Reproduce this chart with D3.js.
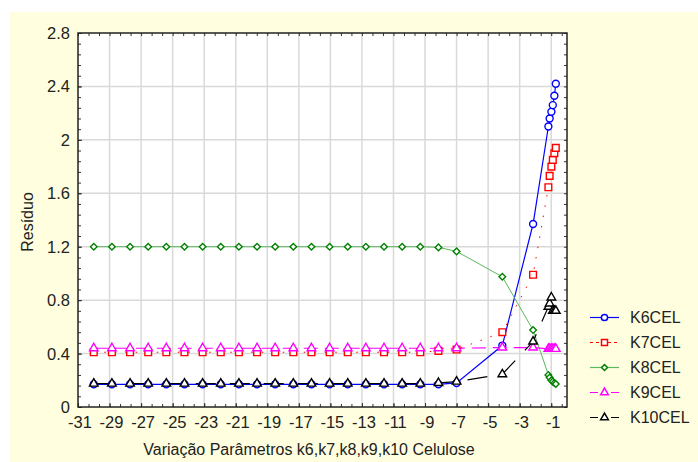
<!DOCTYPE html>
<html lang="pt">
<head>
<meta charset="utf-8">
<title>Resíduo</title>
<script src="https://cdn.jsdelivr.net/npm/d3@7"></script>
<style>
  body { margin: 0; background: #fff; }
  text { font-family: "Liberation Sans", Arial, sans-serif; fill: #222; }
</style>
</head>
<body>
<script>
// x values (parameter variation)
var xVals = [-30, -28.85, -27.7, -26.55, -25.4, -24.25, -23.1, -21.95, -20.8, -19.65,
             -18.5, -17.35, -16.2, -15.05, -13.9, -12.75, -11.6, -10.45, -9.3, -8.15,
             -7, -4.1, -2.15, -1.18, -1.1, -0.99, -0.9, -0.8, -0.71];

var k6cel  = [0.17, 0.17, 0.17, 0.17, 0.17, 0.17, 0.17, 0.17, 0.17, 0.17,
              0.17, 0.17, 0.17, 0.17, 0.17, 0.17, 0.17, 0.17, 0.17, 0.17,
              0.18, 0.46, 1.37, 2.10, 2.16, 2.21, 2.26, 2.33, 2.42];
var k7cel  = [0.41, 0.41, 0.41, 0.41, 0.41, 0.41, 0.41, 0.41, 0.41, 0.41,
              0.41, 0.41, 0.41, 0.41, 0.41, 0.41, 0.41, 0.41, 0.41, 0.42,
              0.43, 0.56, 0.99, 1.645, 1.73, 1.80, 1.85, 1.90, 1.94];
var k8cel  = [1.2, 1.2, 1.2, 1.2, 1.2, 1.2, 1.2, 1.2, 1.2, 1.2,
              1.2, 1.2, 1.2, 1.2, 1.2, 1.2, 1.2, 1.2, 1.2, 1.195,
              1.165, 0.975, 0.576, 0.24, 0.22, 0.2, 0.19, 0.18, 0.172];
var k9cel  = [0.44, 0.44, 0.44, 0.44, 0.44, 0.44, 0.44, 0.44, 0.44, 0.44,
              0.44, 0.44, 0.44, 0.44, 0.44, 0.44, 0.44, 0.44, 0.44, 0.44,
              0.44, 0.445, 0.445, 0.435, 0.435, 0.435, 0.435, 0.435, 0.435];
var k10cel = [0.175, 0.175, 0.175, 0.175, 0.175, 0.175, 0.175, 0.175, 0.175, 0.175,
              0.175, 0.175, 0.175, 0.175, 0.175, 0.175, 0.175, 0.175, 0.175, 0.18,
              0.19, 0.245, 0.49, 0.75, 0.775, 0.82, 0.72, 0.72, 0.72];

var xTicks = [-31, -29, -27, -25, -23, -21, -19, -17, -15, -13, -11, -9, -7, -5, -3, -1];
var yTicks = [0, 0.4, 0.8, 1.2, 1.6, 2, 2.4, 2.8];

var names = ["K6CEL", "K7CEL", "K8CEL", "K9CEL", "K10CEL"];

var w = 698, h = 462;
var pLeft = 78, pRight = 567, pTop = 33, pBottom = 407;

var svg = d3.select("body").append("svg")
    .attr("width", w).attr("height", h);

// yellow panel
svg.append("rect").attr("x", 10).attr("y", 12)
   .attr("width", w - 10).attr("height", h - 12).attr("fill", "#ffffe0");
svg.append("rect").attr("x", pLeft).attr("y", pTop)
   .attr("width", pRight - pLeft).attr("height", pBottom - pTop).attr("fill", "#fff");

var x = d3.scaleLinear().domain([-31, 0]).range([pLeft, pRight]);
var y = d3.scaleLinear().domain([0, 2.8]).range([pBottom, pTop]);

// grid
svg.append("g").selectAll("line").data(xTicks.slice(1)).enter().append("line")
   .attr("x1", function(d) { return x(d); }).attr("x2", function(d) { return x(d); })
   .attr("y1", pTop).attr("y2", pBottom)
   .attr("stroke", "#d9d9d9").attr("stroke-width", 1.5);
svg.append("g").selectAll("line").data(yTicks.slice(1, -1)).enter().append("line")
   .attr("y1", function(d) { return y(d); }).attr("y2", function(d) { return y(d); })
   .attr("x1", pLeft).attr("x2", pRight)
   .attr("stroke", "#d9d9d9").attr("stroke-width", 1.5);

// minor ticks (inward, all four sides)
var xMinor = d3.range(0, 47).map(function(i) { return -31 + i * 2 / 3; }).filter(function(d) { return d <= 0; });
var yMinor = d3.range(0, 36).map(function(i) { return i * 0.08; });

function inwardAxis(axisFn, scale, vals, len, tr) {
    svg.append("g").attr("transform", tr)
       .call(axisFn(scale).tickValues(vals).tickSize(-len).tickFormat(""))
       .call(function(g) { g.select(".domain").remove(); g.selectAll("line").attr("stroke", "#333"); });
}
inwardAxis(d3.axisBottom, x, xMinor, 3, "translate(0," + pBottom + ")");
inwardAxis(d3.axisTop, x, xMinor, 3, "translate(0," + pTop + ")");
inwardAxis(d3.axisLeft, y, yMinor, 3, "translate(" + pLeft + ",0)");
inwardAxis(d3.axisRight, y, yMinor, 3, "translate(" + pRight + ",0)");
inwardAxis(d3.axisBottom, x, xTicks, 4, "translate(0," + pBottom + ")");
inwardAxis(d3.axisLeft, y, yTicks, 4, "translate(" + pLeft + ",0)");

// frame
svg.append("rect").attr("x", pLeft).attr("y", pTop)
   .attr("width", pRight - pLeft).attr("height", pBottom - pTop)
   .attr("fill", "none").attr("stroke", "#222").attr("stroke-width", 1.5);

// tick labels
svg.append("g").selectAll("text").data(xTicks).enter().append("text")
   .attr("x", function(d) { return x(d) + 2; }).attr("y", 428)
   .attr("text-anchor", "middle").attr("font-size", "16.5px")
   .text(function(d) { return "-" + Math.abs(d); });
svg.append("g").selectAll("text").data(yTicks).enter().append("text")
   .attr("x", 70).attr("y", function(d) { return y(d); }).attr("dy", "0.36em")
   .attr("text-anchor", "end").attr("font-size", "16.5px")
   .text(function(d) { return d3.format("~g")(d); });

// axis titles
svg.append("text").attr("x", 309).attr("y", 455).attr("text-anchor", "middle")
   .attr("font-size", "16px").text("Variação Parâmetros k6,k7,k8,k9,k10 Celulose");
svg.append("text").attr("transform", "translate(33,222) rotate(-90)")
   .attr("text-anchor", "middle").attr("font-size", "16px").text("Resíduo");

// series
var series = [
  { name: names[0], vals: k6cel,  line: "#0000ff", mark: "#0000ff", dash: null,    sym: d3.symbolCircle,   size: 38, lw: 1.2 },
  { name: names[1], vals: k7cel,  line: "#ff0000", mark: "#ff0000", dash: "1.5,9", sym: d3.symbolSquare,   size: 45, lw: 1 },
  { name: names[2], vals: k8cel,  line: "#5cb85c", mark: "#008000", dash: null,    sym: d3.symbolDiamond2, size: 28, lw: 1 },
  { name: names[3], vals: k9cel,  line: "#ff00ff", mark: "#ff00ff", dash: "14,7",  sym: d3.symbolTriangle, size: 32, lw: 1.2 },
  { name: names[4], vals: k10cel, line: "#000000", mark: "#000000", dash: "20,14", sym: d3.symbolTriangle, size: 32, lw: 1.2 }
];

var line = d3.line().x(function(d) { return x(d[0]); }).y(function(d) { return y(d[1]); });

series.forEach(function(s) {
    var pts = xVals.map(function(xv, i) { return [xv, s.vals[i]]; });
    svg.append("path").datum(pts).attr("d", line)
       .attr("fill", "none").attr("stroke", s.line).attr("stroke-width", s.lw)
       .attr("stroke-dasharray", s.dash);
});
series.forEach(function(s) {
    var pts = xVals.map(function(xv, i) { return [xv, s.vals[i]]; });
    svg.append("g").selectAll("path").data(pts).enter().append("path")
       .attr("d", d3.symbol().type(s.sym).size(s.size))
       .attr("transform", function(d) { return "translate(" + x(d[0]) + "," + y(d[1]) + ")"; })
       .attr("fill", "#fff").attr("stroke", s.mark).attr("stroke-width", 1.4);
});

// legend
var leg = svg.append("g");
series.forEach(function(s, i) {
    var ly = 317.5 + i * 25;
    leg.append("line").attr("x1", 590).attr("x2", 619).attr("y1", ly).attr("y2", ly)
       .attr("stroke", s.line).attr("stroke-width", 1.2)
       .attr("stroke-dasharray", s.dash === "1.5,9" ? "3,3" : (s.dash ? "8,13" : null));
    leg.append("path").attr("d", d3.symbol().type(s.sym).size(s.size * 0.8))
       .attr("transform", "translate(604.5," + ly + ")")
       .attr("fill", "#fff").attr("stroke", s.mark).attr("stroke-width", 1.5);
    leg.append("text").attr("x", 630).attr("y", ly).attr("dy", "0.36em")
       .attr("font-size", "16px").text(s.name);
});
</script>
</body>
</html>
